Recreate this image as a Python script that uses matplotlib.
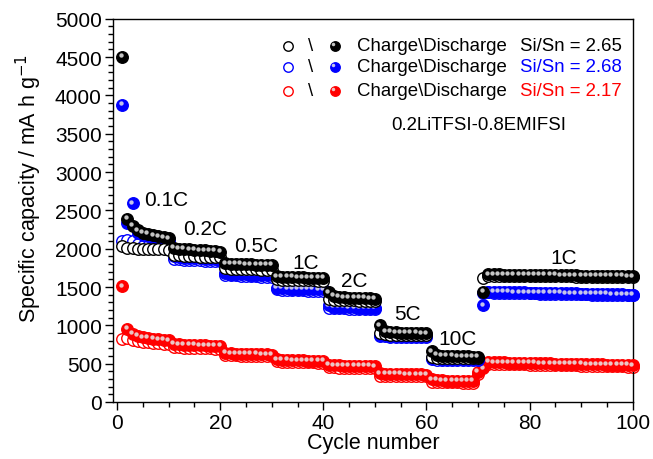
import matplotlib
matplotlib.use("Agg")
import matplotlib.pyplot as plt
import matplotlib.transforms as mtransforms
from matplotlib.ticker import MultipleLocator

plt.rcParams['font.family'] = ['Liberation Sans', 'DejaVu Sans']

cycles = list(range(1, 101))

# Si/Sn = 2.65 (black)
black_dis = [4500,
             2390, 2300, 2240, 2210, 2190, 2175, 2160, 2150, 2135,
             2010, 2000, 1995, 1990, 1985, 1980, 1978, 1972, 1968, 1962,
             1810, 1805, 1800, 1800, 1796, 1795, 1792, 1790, 1788, 1785,
             1640, 1635, 1632, 1630, 1628, 1625, 1624, 1622, 1620, 1618,
             1430, 1385, 1372, 1366, 1362, 1360, 1357, 1355, 1352, 1350,
             1000, 920, 912, 908, 905, 903, 900, 899, 897, 895,
             660, 612, 604, 601, 598, 597, 595, 594, 592, 590,
             1440,
             1665, 1664, 1664, 1663, 1662, 1661, 1660, 1660, 1659, 1658,
             1657, 1656, 1656, 1655, 1654, 1653, 1652, 1651, 1650, 1649,
             1648, 1647, 1646, 1645, 1644, 1643, 1642, 1641, 1640]
black_chg = [2030,
             2010, 2005, 2000, 2000, 1998, 1995, 1993, 1990, 1988,
             1920, 1912, 1906, 1902, 1900, 1897, 1895, 1892, 1890, 1886,
             1745, 1740, 1737, 1735, 1733, 1731, 1730, 1728, 1726, 1725,
             1600, 1595, 1592, 1590, 1589, 1587, 1586, 1585, 1583, 1582,
             1350, 1335, 1330, 1328, 1326, 1325, 1323, 1322, 1320, 1318,
             900, 885, 880, 878, 877, 876, 875, 874, 873, 872,
             585, 578, 575, 574, 573, 572, 571, 570, 569, 568,
             1620,
             1650, 1650, 1649, 1648, 1648, 1647, 1646, 1645, 1645, 1644,
             1643, 1642, 1641, 1641, 1640, 1639, 1638, 1637, 1636, 1635,
             1635, 1634, 1633, 1632, 1631, 1630, 1629, 1628, 1627]

# Si/Sn = 2.68 (blue)
blue_dis = [3880,
            2340, 2590, 2210, 2180, 2160, 2140, 2125, 2110, 2100,
            1900, 1890, 1885, 1880, 1876, 1872, 1868, 1864, 1860, 1856,
            1680, 1675, 1672, 1668, 1665, 1662, 1660, 1657, 1655, 1652,
            1490, 1485, 1482, 1480, 1478, 1476, 1474, 1472, 1470, 1468,
            1260, 1245, 1240, 1238, 1236, 1234, 1232, 1230, 1228, 1226,
            880, 870, 866, 864, 862, 861, 860, 858, 857, 856,
            575, 568, 565, 563, 562, 561, 560, 559, 558, 557,
            1260,
            1440, 1438, 1437, 1435, 1434, 1432, 1431, 1430, 1428, 1427,
            1425, 1424, 1422, 1421, 1420, 1418, 1417, 1416, 1414, 1413,
            1412, 1410, 1409, 1408, 1406, 1405, 1404, 1402, 1400]
blue_chg = [2100,
            2110, 2095, 2060, 2040, 2030, 2020, 2012, 2005, 1998,
            1870, 1862, 1858, 1854, 1850, 1846, 1843, 1840, 1837, 1834,
            1660, 1655, 1652, 1648, 1645, 1642, 1640, 1637, 1635, 1632,
            1470, 1466, 1463, 1460, 1458, 1456, 1454, 1452, 1450, 1448,
            1230, 1225, 1222, 1220, 1218, 1216, 1214, 1212, 1210, 1208,
            860, 856, 854, 852, 851, 850, 849, 848, 847, 846,
            555, 553, 552, 551, 550, 549, 548, 547, 546, 545,
            1420,
            1430, 1428, 1427, 1425, 1424, 1422, 1421, 1420, 1418, 1417,
            1415, 1414, 1412, 1411, 1410, 1408, 1407, 1406, 1404, 1403,
            1402, 1400, 1399, 1398, 1396, 1395, 1394, 1392, 1390]

# Si/Sn = 2.17 (red)
red_dis = [1510,
           950, 890, 860, 845, 835, 825, 818, 812, 805,
           760, 752, 748, 745, 742, 740, 737, 735, 732, 730,
           640, 635, 632, 630, 628, 626, 624, 622, 620, 618,
           555, 550, 547, 545, 543, 541, 540, 538, 536, 534,
           485, 478, 476, 474, 472, 471, 470, 469, 468, 467,
           375, 368, 366, 364, 363, 362, 361, 360, 359, 358,
           295, 285, 282, 280, 279, 278, 277, 276, 275, 390,
           440,
           520, 518, 517, 515, 514, 512, 511, 510, 508, 507,
           505, 504, 502, 501, 500, 498, 497, 496, 494, 493,
           492, 490, 489, 488, 486, 485, 484, 482, 480]
red_chg = [820,
           830, 810, 795, 785, 778, 772, 766, 760, 755,
           720, 714, 710, 707, 704, 702, 700, 698, 696, 694,
           615, 611, 608, 606, 604, 602, 600, 598, 597, 595,
           530, 526, 524, 522, 520, 519, 517, 516, 514, 513,
           455, 450, 448, 447, 446, 445, 444, 443, 442, 441,
           345, 342, 340, 339, 338, 337, 336, 335, 334, 333,
           260, 258, 257, 256, 255, 254, 253, 252, 251, 360,
           460,
           500, 498, 497, 495, 494, 492, 491, 490, 488, 487,
           485, 484, 482, 481, 480, 478, 477, 476, 474, 473,
           472, 470, 469, 468, 466, 465, 464, 462, 460]

rate_labels = ["0.1C", "0.2C", "0.5C", "1C", "2C", "5C", "10C", "1C"]
rate_x = [5.2, 12.8, 22.6, 33.9, 43.5, 53.7, 62.4, 84.1]
rate_y = [2640, 2258, 2040, 1823, 1580, 1149, 831, 1889]

legend_colors = ["black", "blue", "red"]
legend_ratios = ["Si/Sn = 2.65", "Si/Sn = 2.68", "Si/Sn = 2.17"]
electrolyte = "0.2LiTFSI-0.8EMIFSI"

fig = plt.figure(figsize=(6.53, 4.60), dpi=100)
ax = fig.add_axes([0.173, 0.124, 0.796, 0.833])

ms = 8.3
hl_offset = mtransforms.offset_copy(ax.transData, fig=fig, x=-1.2, y=1.2, units='points')


def ball(x, y, color, z, size=ms):
    ax.plot(x, y, 'o', ls='none', color=color, mec=color, ms=size, zorder=z, clip_on=False)
    ax.plot(x, y, 'o', ls='none', color='#e8e8e8', mec='none', ms=size * 0.38,
            alpha=0.85, zorder=z + 0.1, transform=hl_offset, clip_on=False)


def opencirc(x, y, color, z, size=ms):
    ax.plot(x, y, 'o', ls='none', mfc='white', mec=color, mew=1.0, ms=size, zorder=z, clip_on=False)


opencirc(cycles, red_chg, 'red', 2)
ball(cycles, red_dis, 'red', 3)
opencirc(cycles, blue_chg, 'blue', 4)
ball(cycles, blue_dis, 'blue', 5)
opencirc(cycles, black_chg, 'black', 6)
ball(cycles, black_dis, 'black', 7)

ax.set_xlim(-0.8, 100)
ax.set_ylim(0, 5000)
ax.xaxis.set_major_locator(MultipleLocator(20))
ax.xaxis.set_minor_locator(MultipleLocator(5))
ax.yaxis.set_major_locator(MultipleLocator(500))
ax.yaxis.set_minor_locator(MultipleLocator(100))
ax.tick_params(which='both', direction='out', top=False, right=False, labelsize=15)
ax.tick_params(which='major', length=6, width=1, pad=2)
ax.tick_params(which='minor', length=3.5, width=1)
for sp in ax.spines.values():
    sp.set_linewidth(1.0)

ax.set_xlabel("Cycle number", fontsize=15.5, labelpad=0)
ax.set_ylabel("Specific capacity / mA h g$^{-1}$", fontsize=15.5)
ax.yaxis.set_label_coords(-0.133, 0.56)

for lab, lx, ly in zip(rate_labels, rate_x, rate_y):
    ax.text(lx, ly, lab, fontsize=15, va='center', ha='left', zorder=10)

row_y = [4648, 4373, 4060]
hl_leg = mtransforms.offset_copy(ax.transData, fig=fig, x=-1, y=1, units='points')
for c, r, yy in zip(legend_colors, legend_ratios, row_y):
    ax.plot([33.1], [yy], 'o', mfc='white', mec=c, mew=1.0, ms=6.8, zorder=10)
    ax.text(37.5, yy, "\\", fontsize=13.4, ha='center', va='center', zorder=10)
    ax.plot([42.2], [yy], 'o', color=c, ms=6.8, zorder=10)
    ax.plot([42.2], [yy], 'o', color='#e8e8e8', mec='none', ms=2.5, alpha=0.85, zorder=10.1,
            transform=hl_leg)
    ax.text(46.5, yy, "Charge\\Discharge", fontsize=13.4, ha='left', va='center', zorder=10)
    ax.text(78.1, yy, r, fontsize=13.4, ha='left', va='center', color=c, zorder=10)

ax.text(53.1, 3616, electrolyte, fontsize=13.4, ha='left', va='center', zorder=10)

fig.savefig("out.png", dpi=100)
